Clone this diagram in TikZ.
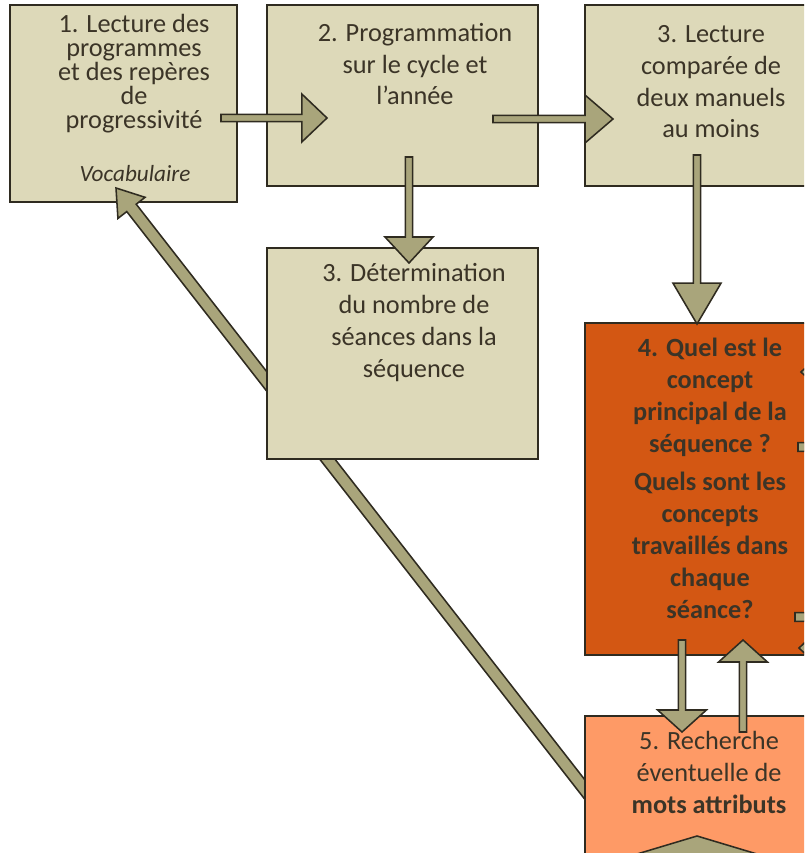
\documentclass[tikz,border=0pt]{standalone}
\usepackage{fontspec}
\setmainfont{Carlito}
\usetikzlibrary{calc, fit}

\definecolor{boxtan}{HTML}{DDD9B9}
\definecolor{boxrust}{HTML}{D35713}
\definecolor{boxsalmon}{HTML}{FE9A66}
\definecolor{arrowolive}{HTML}{A9A57B}
\definecolor{edgedark}{HTML}{2F2B20}
\definecolor{textdark}{HTML}{3B3427}

\tikzset{
  box/.style={draw=edgedark, line width=1.3pt, inner sep=0pt},
  boxtext/.style={text=textdark, align=center, anchor=base, inner sep=0pt, font=\fontsize{18.7}{22.6}\selectfont},
  arrowbody/.style={draw=edgedark, fill=arrowolive, line width=1.1pt, line join=miter}
}

% block arrow: from, to, shaft half width, head length, head half width
\newcommand{\blockarrow}[5]{%
  \coordinate (hb) at ($(#2)!#4!(#1)$);
  \draw[arrowbody] ($(#1)!#3!90:(#2)$) -- ($(hb)!#3!-90:(#1)$) -- ($(hb)!#5!-90:(#1)$) -- (#2)
    -- ($(hb)!#5!90:(#1)$) -- ($(hb)!#3!90:(#1)$) -- ($(#1)!#3!-90:(#2)$) -- cycle;
}

\begin{document}
\begin{tikzpicture}[x=0.025cm, y=-0.025cm]
\useasboundingbox (0,0) rectangle (804,853);
\clip (0,0) rectangle (804,853);

% first box, then the return arrow that runs behind the others
\node[box, fill=boxtan, fit={(10,5) (237,202)}] (b1) {};
\coordinate (back-s) at (600,809);
\coordinate (back-e) at (116,188);
\blockarrow{back-s}{back-e}{0.15cm}{0.63cm}{0.43cm}

\node[box, fill=boxtan, fit={(267,5) (538,186)}] (b2) {};
\node[box, fill=boxtan, fit={(585,5) (850,186)}] (b3) {};
\node[box, fill=boxtan, fit={(267,248) (538,459)}] (bD) {};
\node[box, fill=boxrust, fit={(585,323) (850,655)}] (b4) {};
\node[box, fill=boxsalmon, fit={(585,716) (850,900)}] (b5) {};

% texts (base = last line)
\node[boxtext, font=\fontsize{18.7}{17.1}\selectfont] (t1) at (134,129) {1. Lecture des\\programmes\\et des repères\\de\\progressivité};
\node[boxtext, font=\fontsize{16.5}{19}\selectfont\itshape] (t1v) at (135,182) {Vocabulaire};
\node[boxtext] (t2) at (415,105) {2. Programmation\\sur le cycle et\\l’année};
\node[boxtext] (t3) at (711,138) {3. Lecture\\comparée de\\deux manuels\\au moins};
\node[boxtext] (tD) at (414,377) {3. Détermination\\du nombre de\\séances dans la\\séquence};
\node[boxtext, font=\fontsize{18.7}{22.6}\selectfont\bfseries] (t4) at (710,618) {4. Quel est le\\concept\\principal de la\\séquence ?\\[5pt]Quels sont les\\concepts\\travaillés dans\\chaque\\séance?};
\node[boxtext] (t5) at (709,813) {5. Recherche\\éventuelle de\\\textbf{mots attributs}};

% arrows between boxes
\coordinate (a12s) at (221,118); \coordinate (a12e) at (327,118);
\coordinate (a23s) at (493,119); \coordinate (a23e) at (613,119);
\coordinate (a2Ds) at (409,157); \coordinate (a2De) at (409,263);
\coordinate (a34s) at (697,155); \coordinate (a34e) at (697,324);
\coordinate (a45s) at (682,640); \coordinate (a45e) at (682,732);
\coordinate (a54s) at (743,732); \coordinate (a54e) at (743,640);
\blockarrow{a12s}{a12e}{0.09cm}{0.63cm}{0.6cm}
\blockarrow{a23s}{a23e}{0.09cm}{0.7cm}{0.6cm}
\blockarrow{a2Ds}{a2De}{0.09cm}{0.65cm}{0.6cm}
\blockarrow{a34s}{a34e}{0.09cm}{1.02cm}{0.6cm}
\blockarrow{a45s}{a45e}{0.09cm}{0.55cm}{0.61cm}
\blockarrow{a54s}{a54e}{0.09cm}{0.55cm}{0.61cm}

% arrows coming from outside the frame
\coordinate (inb-s) at (697,950); \coordinate (inb-e) at (697,836);
\blockarrow{inb-s}{inb-e}{0.1cm}{0.63cm}{2.1cm}
\coordinate (r1s) at (900,372); \coordinate (r1e) at (801,372);
\coordinate (r2s) at (798,447); \coordinate (r2e) at (900,447);
\coordinate (r3s) at (795,617); \coordinate (r3e) at (900,617);
\coordinate (r4s) at (900,648); \coordinate (r4e) at (799,648);
\blockarrow{r1s}{r1e}{0.09cm}{0.63cm}{0.6cm}
\blockarrow{r2s}{r2e}{0.11cm}{0.63cm}{0.6cm}
\blockarrow{r3s}{r3e}{0.11cm}{0.63cm}{0.6cm}
\blockarrow{r4s}{r4e}{0.09cm}{0.63cm}{0.6cm}

\end{tikzpicture}
\end{document}
